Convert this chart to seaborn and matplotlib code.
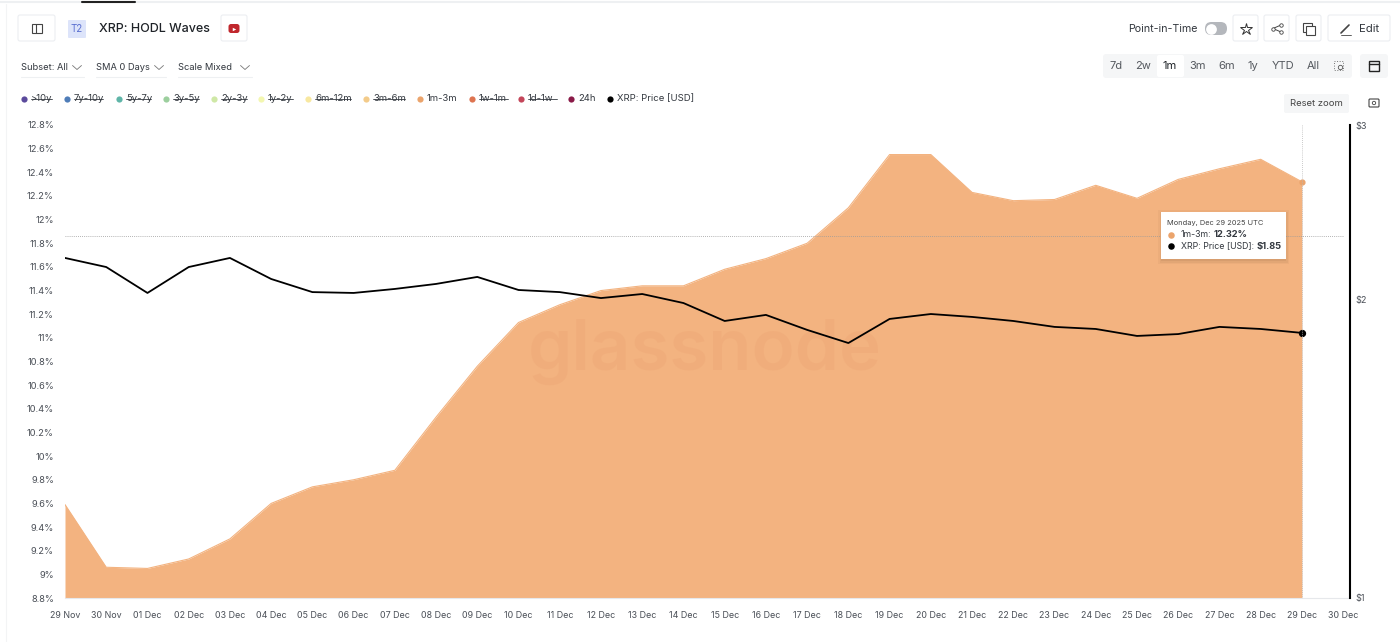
import numpy as np
import pandas as pd
import matplotlib
matplotlib.use("Agg")
import matplotlib.pyplot as plt
import matplotlib.dates as mdates
from matplotlib.patches import FancyBboxPatch, Rectangle
import seaborn as sns

# ── Data ───────────────────────────────────────────────────────────────────────

dates = pd.date_range("2025-11-29", "2025-12-29", freq="D")

wave_1m_3m = [9.59, 9.06, 9.05, 9.13, 9.30, 9.60, 9.74, 9.80, 9.88, 10.33,
              10.76, 11.13, 11.28, 11.40, 11.44, 11.44, 11.58, 11.67, 11.80, 12.10,
              12.55, 12.55, 12.23, 12.16, 12.17, 12.29, 12.18, 12.34, 12.43, 12.51,
              12.32]

xrp_price = [2.203, 2.157, 2.031, 2.157, 2.203, 2.098, 2.035, 2.031, 2.050, 2.074,
             2.108, 2.045, 2.035, 2.007, 2.026, 1.984, 1.903, 1.930, 1.864, 1.808,
             1.912, 1.934, 1.921, 1.903, 1.877, 1.868, 1.838, 1.846, 1.877, 1.868,
             1.851]

pct_ticks = [8.8, 9, 9.2, 9.4, 9.6, 9.8, 10, 10.2, 10.4, 10.6, 10.8, 11, 11.2,
             11.4, 11.6, 11.8, 12, 12.2, 12.4, 12.6, 12.8]
price_ticks = [1, 2, 3]

legend_names = [">10y", "7y-10y", "5y-7y", "3y-5y", "2y-3y", "1y-2y", "6m-12m",
                "3m-6m", "1m-3m", "1w-1m", "1d-1w", "24h", "XRP: Price [USD]"]
legend_colors = ["#5B4A9C", "#4F7DB8", "#5FB5A8", "#9CCF9E", "#CFE8A6", "#F3F7B0",
                 "#F8E8A0", "#F3CB8A", "#EBA46C", "#DE7450", "#C4465A", "#8A1A48",
                 "#000000"]
legend_dot_x = [24, 67, 119, 166, 214, 261, 308, 366, 420, 472, 521, 571, 610]
legend_text_end = [52, 103, 151, 199, 247, 293, 351, 405, 457, 508, 557, 594, 692]
legend_struck = [True] * 8 + [False, True, True, False, False]

range_labels = ["7d", "2w", "1m", "3m", "6m", "1y", "YTD", "All"]
range_x = [1116, 1143, 1170, 1198, 1227, 1253, 1283, 1313]

# ── Style ──────────────────────────────────────────────────────────────────────

sns.set_theme(style="white")
plt.rcParams["font.family"] = ["Inter", "DejaVu Sans"]

AREA = "#F3B380"
TEXT = "#33383F"
TICK = "#4A4F57"
W, H = 1400, 642

fig = plt.figure(figsize=(14, 6.42), dpi=100, facecolor="white")

# plot area in pixels: x 65..1350, y 125..598
ax = fig.add_axes([65 / W, 1 - 598 / H, (1350 - 65) / W, (598 - 125) / H])
ax.set_facecolor("none")

df = pd.DataFrame({"date": dates, "wave": wave_1m_3m, "price": xrp_price})

ax.fill_between(df["date"], 8.8, df["wave"], color=AREA, lw=0, zorder=2)
sns.lineplot(data=df, x="date", y="wave", ax=ax, color=AREA, lw=0.8, zorder=2)
ax.scatter(df["date"].iloc[-1], df["wave"].iloc[-1], s=12, color="#EBA46C", zorder=3)

# watermark sits on the area, under the price line
ax.text(705 / W, 1 - 370 / H, "glassnode", transform=fig.transFigure, fontsize=51,
        ha="center", va="baseline", color="#EBA070", alpha=0.28, fontweight="semibold", zorder=3)

x0 = mdates.date2num(dates[0])
ax.set_xlim(x0, x0 + (1350 - 65) / 41.23)
ax.set_ylim(8.8, 12.8)
ax.set_yticks(pct_ticks)
ax.set_yticklabels([f"{t:g}%" for t in pct_ticks], fontsize=6.7, color=TICK)
ax.set_xticks(pd.date_range("2025-11-29", "2025-12-30", freq="D"))
ax.xaxis.set_major_formatter(mdates.DateFormatter("%d %b"))
ax.tick_params(axis="x", labelsize=6.4, labelcolor=TICK, length=3, width=0.6,
               color="#E6E8EB", pad=6.5)
ax.tick_params(axis="y", length=0, pad=8)
ax.set_xlabel("")
ax.set_ylabel("")
for s in ["top", "left", "right"]:
    ax.spines[s].set_visible(False)
ax.spines["bottom"].set_color("#E6E8EB")
ax.spines["bottom"].set_linewidth(0.8)

# price on the right, log scale
ax2 = ax.twinx()
ax2.set_facecolor("none")
sns.lineplot(data=df, x="date", y="price", ax=ax2, color="black", lw=1.3, zorder=5)
ax2.scatter(df["date"].iloc[-1], df["price"].iloc[-1], s=18, color="black", zorder=6)
ax2.set_yscale("log")
ax2.set_ylim(1, 3)
ax2.set_yticks(price_ticks)
ax2.set_yticklabels([f"${t}" for t in price_ticks], fontsize=6.5, color=TICK)
ax2.minorticks_off()
ax2.tick_params(axis="y", length=0, pad=4)
ax2.set_xlabel("")
ax2.set_ylabel("")
for s in ["top", "left", "bottom"]:
    ax2.spines[s].set_visible(False)
ax2.spines["right"].set_color("black")
ax2.spines["right"].set_linewidth(1.5)

# ── Page furniture, drawn in pixel coordinates ─────────────────────────────────

ui = fig.add_axes([0, 0, 1, 1], zorder=10)
ui.set_xlim(0, W)
ui.set_ylim(H, 0)
ui.axis("off")
ui.patch.set_alpha(0)


def box(x, y, w, h, fc="white", ec="#ECEEF1", lw=0.8, r=2, z=1):
    ui.add_patch(FancyBboxPatch((x + r, y + r), w - 2 * r, h - 2 * r,
                                boxstyle=f"round,pad={r}", fc=fc, ec=ec, lw=lw, zorder=z))


def label(x, y, s, size=8, color=TEXT, ha="left", **kw):
    ui.text(x, y, s, fontsize=size, color=color, ha=ha, va="center", **kw)


# top rule
ui.plot([0, W], [2, 2], color="#EEF0F2", lw=1.5)
ui.plot([82, 135], [1.5, 1.5], color="#222222", lw=1.5)
ui.plot([6, 6], [4, 642], color="#F3F4F5", lw=0.8)

# title row
box(18, 15, 37, 26)
ui.add_patch(Rectangle((32, 24), 10, 9, fc="none", ec="#444444", lw=0.8))
ui.plot([35.5, 35.5], [24, 33], color="#444444", lw=0.8)
box(68, 20, 18, 18, fc="#DDE4FA", ec="none", r=1)
label(77, 29, "T2", size=7, color="#5A6FD0", ha="center")
label(99, 28.5, "XRP: HODL Waves", size=9, color="#1F2328", fontweight="medium")
box(221, 15, 26, 26)
box(228.5, 24, 11, 9, fc="#C0272D", ec="none", r=2.5, z=2)
ui.plot([234], [28.5], marker=">", ms=2.5, color="white", mew=0, zorder=3)

# dropdowns
for x, s, cx, end in [(21, "Subset: All", 77, 84), (96, "SMA 0 Days", 159, 166),
                      (178, "Scale Mixed", 245, 252)]:
    label(x, 67, s, size=6.7)
    ui.plot([cx - 4.5, cx, cx + 4.5], [65.5, 69.5, 65.5], color="#777777", lw=0.6)
    ui.plot([x, end], [77, 77], color="#EEF0F2", lw=0.8)

# legend
for name, col, dx, end, struck in zip(legend_names, legend_colors, legend_dot_x,
                                      legend_text_end, legend_struck):
    ui.scatter([dx], [98.5], s=20, color=col, lw=0, zorder=3)
    label(dx + 7, 98.5, name, size=6.85)
    if struck:
        ui.plot([dx + 7, end], [99, 99], color=TEXT, lw=0.6)

# top right controls
label(1128, 28.5, "Point-in-Time", size=7.7)
box(1205, 22, 22, 13, fc="#B4B7BC", ec="none", r=6.4)
ui.scatter([1211], [28.5], s=60, color="white", lw=0, zorder=3)
for bx in [1233, 1264, 1296]:
    box(bx, 15, 25, 26)
ui.plot([1246], [28.5], marker="*", ms=9, mfc="none", mec="#333333", mew=0.7, zorder=3)
ui.plot([1281, 1273, 1281], [25, 28.5, 32], color="#444444", lw=0.7, marker="o",
        ms=2.5, mfc="white", mew=0.6, zorder=3)
ui.add_patch(Rectangle((1303, 23), 9, 9, fc="none", ec="#444444", lw=0.8, zorder=3))
ui.add_patch(Rectangle((1305.5, 25.5), 9, 9, fc="white", ec="#444444", lw=0.8, zorder=4))
box(1328, 15, 62, 26)
ui.plot([1341, 1349], [33, 25], color="#444444", lw=1.2, zorder=3)
ui.plot([1341, 1351], [34.5, 34.5], color="#444444", lw=0.6, zorder=3)
label(1359, 28.5, "Edit", size=8.2)

# range picker
box(1103, 54, 249, 24, fc="#F5F6F7", ec="none", r=3)
box(1157, 55, 27, 22, fc="white", ec="none", r=2, z=2)
for s, x in zip(range_labels, range_x):
    label(x, 66, s, size=8, ha="center", color="#1F2328" if s == "1m" else "#55595F", zorder=3)
ui.add_patch(Rectangle((1334, 61), 9, 9, fc="none", ec="#777777", lw=0.7, ls=":", zorder=3))
ui.scatter([1340], [67], s=10, facecolors="#F5F6F7", edgecolors="#555555", lw=0.6, zorder=4)
box(1360, 54, 28, 24, fc="#F5F6F7", ec="none", r=3)
ui.add_patch(Rectangle((1369, 61), 10, 9.5, fc="none", ec="#222222", lw=1, zorder=3))
ui.plot([1369, 1379], [64, 64], color="#222222", lw=1, zorder=3)

# reset zoom + camera
box(1284, 94, 65, 19, fc="#F5F6F7", ec="none", r=2)
label(1316.5, 103, "Reset zoom", size=6.8, ha="center", color="#444444", zorder=3)
box(1369, 99, 10, 8, fc="none", ec="#444444", lw=0.8, r=1, z=3)
ui.scatter([1374], [103], s=6, facecolors="none", edgecolors="#444444", lw=0.6, zorder=3)

# crosshair
ui.plot([65, 1343], [236, 236], color="#9A9A9A", lw=0.6, ls=(0, (1, 1.5)), zorder=2)
ui.plot([1302, 1302], [125, 598], color="#B9B9B9", lw=0.6, ls=(0, (1, 1.5)), zorder=2)

# tooltip
for off, a in [(4, 0.05), (2.5, 0.07), (1, 0.09)]:
    ui.add_patch(Rectangle((1161 - off + 1, 212 - off + 2), 125 + 2 * off - 2, 47 + 2 * off - 1,
                           fc="#6B4A30", ec="none", alpha=a, zorder=6))
ui.add_patch(Rectangle((1161, 212), 125, 47, fc="white", ec="none", zorder=7))
label(1167, 222.5, "Monday, Dec 29 2025 UTC", size=5.35, color="#444444", zorder=8)
ui.scatter([1171], [234.5], s=22, color="#EBA46C", lw=0, zorder=8)
ui.text(1181, 234.5, "1m-3m:", fontsize=6.3, color=TEXT, va="center", zorder=8)
ui.text(1214, 234.5, "12.32%", fontsize=6.7, color=TEXT, va="center", fontweight="bold", zorder=8)
ui.scatter([1171], [246], s=22, color="black", lw=0, zorder=8)
ui.text(1181, 246, "XRP: Price [USD]:", fontsize=6.3, color=TEXT, va="center", zorder=8)
ui.text(1257, 246, "$1.85", fontsize=6.7, color=TEXT, va="center", fontweight="bold", zorder=8)

fig.savefig("out.png", dpi=100, facecolor="white")
